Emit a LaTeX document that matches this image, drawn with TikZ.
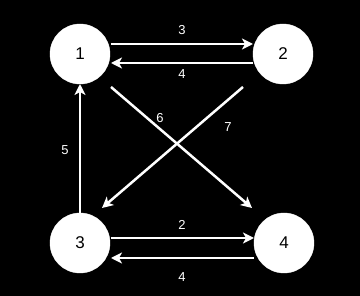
\documentclass[tikz,border=0pt]{standalone}
\usepackage{fontspec}
\setmainfont{Liberation Sans}
\usetikzlibrary{arrows.meta}
\begin{document}
\begin{tikzpicture}[x=1pt,y=-1pt,
  vertex/.style={circle,fill=white,draw=white,minimum size=60pt,inner sep=0pt,font=\fontsize{17}{19}\selectfont,text=black},
  edge/.style={draw=white,line width=2.5pt,-{Stealth[length=11pt,width=11pt,inset=3pt]}},
  elabel/.style={text=white,font=\fontsize{13}{15}\selectfont,inner sep=0pt}]
\fill[black] (0,0) rectangle (360,296);
\useasboundingbox (0,0) rectangle (360,296);
\node[vertex] (n1) at (80,54) {1};
\node[vertex] (n2) at (283,54) {2};
\node[vertex] (n3) at (80,243) {3};
\node[vertex] (n4) at (284,243) {4};
\coordinate (a12s) at (111,44); \coordinate (a12e) at (253,44);
\coordinate (a21s) at (253,63); \coordinate (a21e) at (111,63);
\coordinate (a34s) at (111,238); \coordinate (a34e) at (254,238);
\coordinate (a43s) at (254,258); \coordinate (a43e) at (111,258);
\coordinate (a31s) at (80,213); \coordinate (a31e) at (80,84);
\coordinate (a14s) at (111,87); \coordinate (a14e) at (252,208);
\coordinate (a23s) at (243,87); \coordinate (a23e) at (102,208);
\draw[edge] (a12s) -- (a12e);
\draw[edge] (a21s) -- (a21e);
\draw[edge] (a34s) -- (a34e);
\draw[edge] (a43s) -- (a43e);
\draw[edge] (a31s) -- (a31e);
\draw[edge] (a14s) -- (a14e);
\draw[edge] (a23s) -- (a23e);
\node[elabel] (l3) at (182,30) {3};
\node[elabel] (l4a) at (182,74) {4};
\node[elabel] (l2) at (182,225) {2};
\node[elabel] (l4b) at (182,277) {4};
\node[elabel] (l5) at (65,150) {5};
\node[elabel] (l6) at (160,118) {6};
\node[elabel] (l7) at (228,127) {7};
\end{tikzpicture}
\end{document}
